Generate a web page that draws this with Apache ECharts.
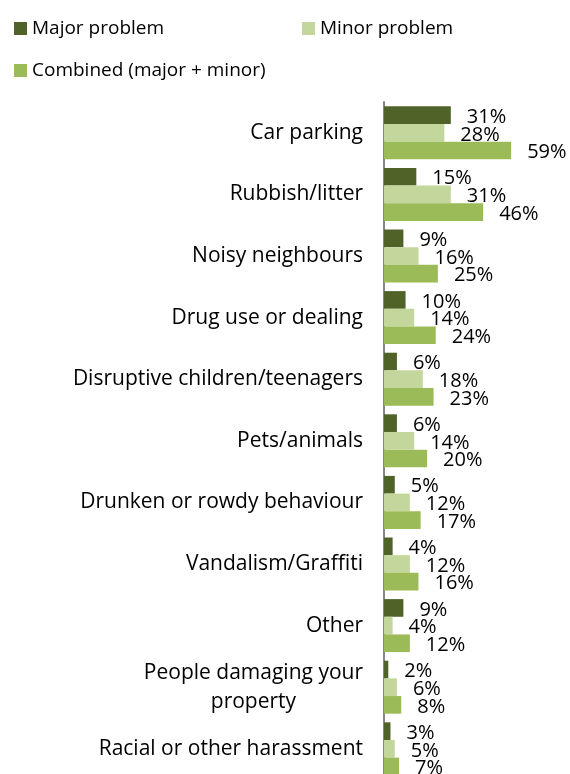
<!DOCTYPE html>
<html>
<head>
<meta charset="utf-8">
<script src="https://cdn.jsdelivr.net/npm/echarts@6/dist/echarts.min.js"></script>
<style>
  html, body { margin: 0; padding: 0; background: #ffffff; }
  #chart { width: 570px; height: 774px; }
</style>
</head>
<body>
<div id="chart"></div>
<script>
// Neighbourhood problems, share of respondents (%)
const categories = [
  'Car parking',
  'Rubbish/litter',
  'Noisy neighbours',
  'Drug use or dealing',
  'Disruptive children/teenagers',
  'Pets/animals',
  'Drunken or rowdy behaviour',
  'Vandalism/Graffiti',
  'Other',
  'People damaging your\nproperty',
  'Racial or other harassment'
];
const seriesNames = ['Major problem', 'Minor problem', 'Combined (major + minor)'];
const majorValues    = [31, 15,  9, 10,  6,  6,  5,  4,  9, 2, 3];
const minorValues    = [28, 31, 16, 14, 18, 14, 12, 12,  4, 6, 5];
const combinedValues = [59, 46, 25, 24, 23, 20, 17, 16, 12, 8, 7];

const FONT = '"Open Sans", "Noto Sans", sans-serif';
const colors = ['#4F6228', '#C3D69B', '#9BBB59'];
const pxPerUnit = 2.155;
const xMax = 80;
const bandHeight = 61.6;

const chart = echarts.init(document.getElementById('chart'), null, { renderer: 'canvas' });

function barSeries(name, data, color) {
  return {
    name: name,
    type: 'bar',
    data: data,
    itemStyle: { color: color },
    barGap: '0%',
    barCategoryGap: '14%',
    label: {
      show: true,
      position: 'right',
      distance: 16,
      offset: [0, 2],
      formatter: '{c}%',
      color: '#000000',
      fontFamily: FONT,
      fontSize: 20
    },
    emphasis: { disabled: true }
  };
}

const legendBase = {
  icon: 'rect',
  itemWidth: 13,
  itemHeight: 13,
  itemGap: 0,
  padding: 0,
  selectedMode: false,
  textStyle: { color: '#000000', fontFamily: FONT, fontSize: 19 }
};

chart.setOption({
  backgroundColor: '#ffffff',
  animation: false,
  color: colors,
  legend: [
    Object.assign({}, legendBase, { data: [seriesNames[0]], left: 14, top: 19 }),
    Object.assign({}, legendBase, { data: [seriesNames[1]], left: 302, top: 19 }),
    Object.assign({}, legendBase, { data: [seriesNames[2]], left: 14, top: 61 })
  ],
  grid: {
    left: 384,
    top: 102,
    width: xMax * pxPerUnit,
    height: bandHeight * categories.length,
    containLabel: false,
    outerBoundsMode: 'none'
  },
  xAxis: {
    type: 'value',
    min: 0,
    max: xMax,
    show: false
  },
  yAxis: {
    type: 'category',
    data: categories,
    inverse: true,
    axisLine: { show: true, lineStyle: { color: '#868686', width: 2 } },
    axisTick: { show: false },
    axisLabel: {
      margin: 21,
      color: '#000000',
      fontFamily: FONT,
      fontSize: 21,
      formatter: function (value) {
        return value.split('\n').map(function (line) { return '{c|' + line + '}'; }).join('\n');
      },
      rich: {
        c: { align: 'center', fontFamily: FONT, fontSize: 21, lineHeight: 29, color: '#000000' }
      }
    }
  },
  series: [
    barSeries(seriesNames[0], majorValues, colors[0]),
    barSeries(seriesNames[1], minorValues, colors[1]),
    barSeries(seriesNames[2], combinedValues, colors[2])
  ]
});
</script>
</body>
</html>
